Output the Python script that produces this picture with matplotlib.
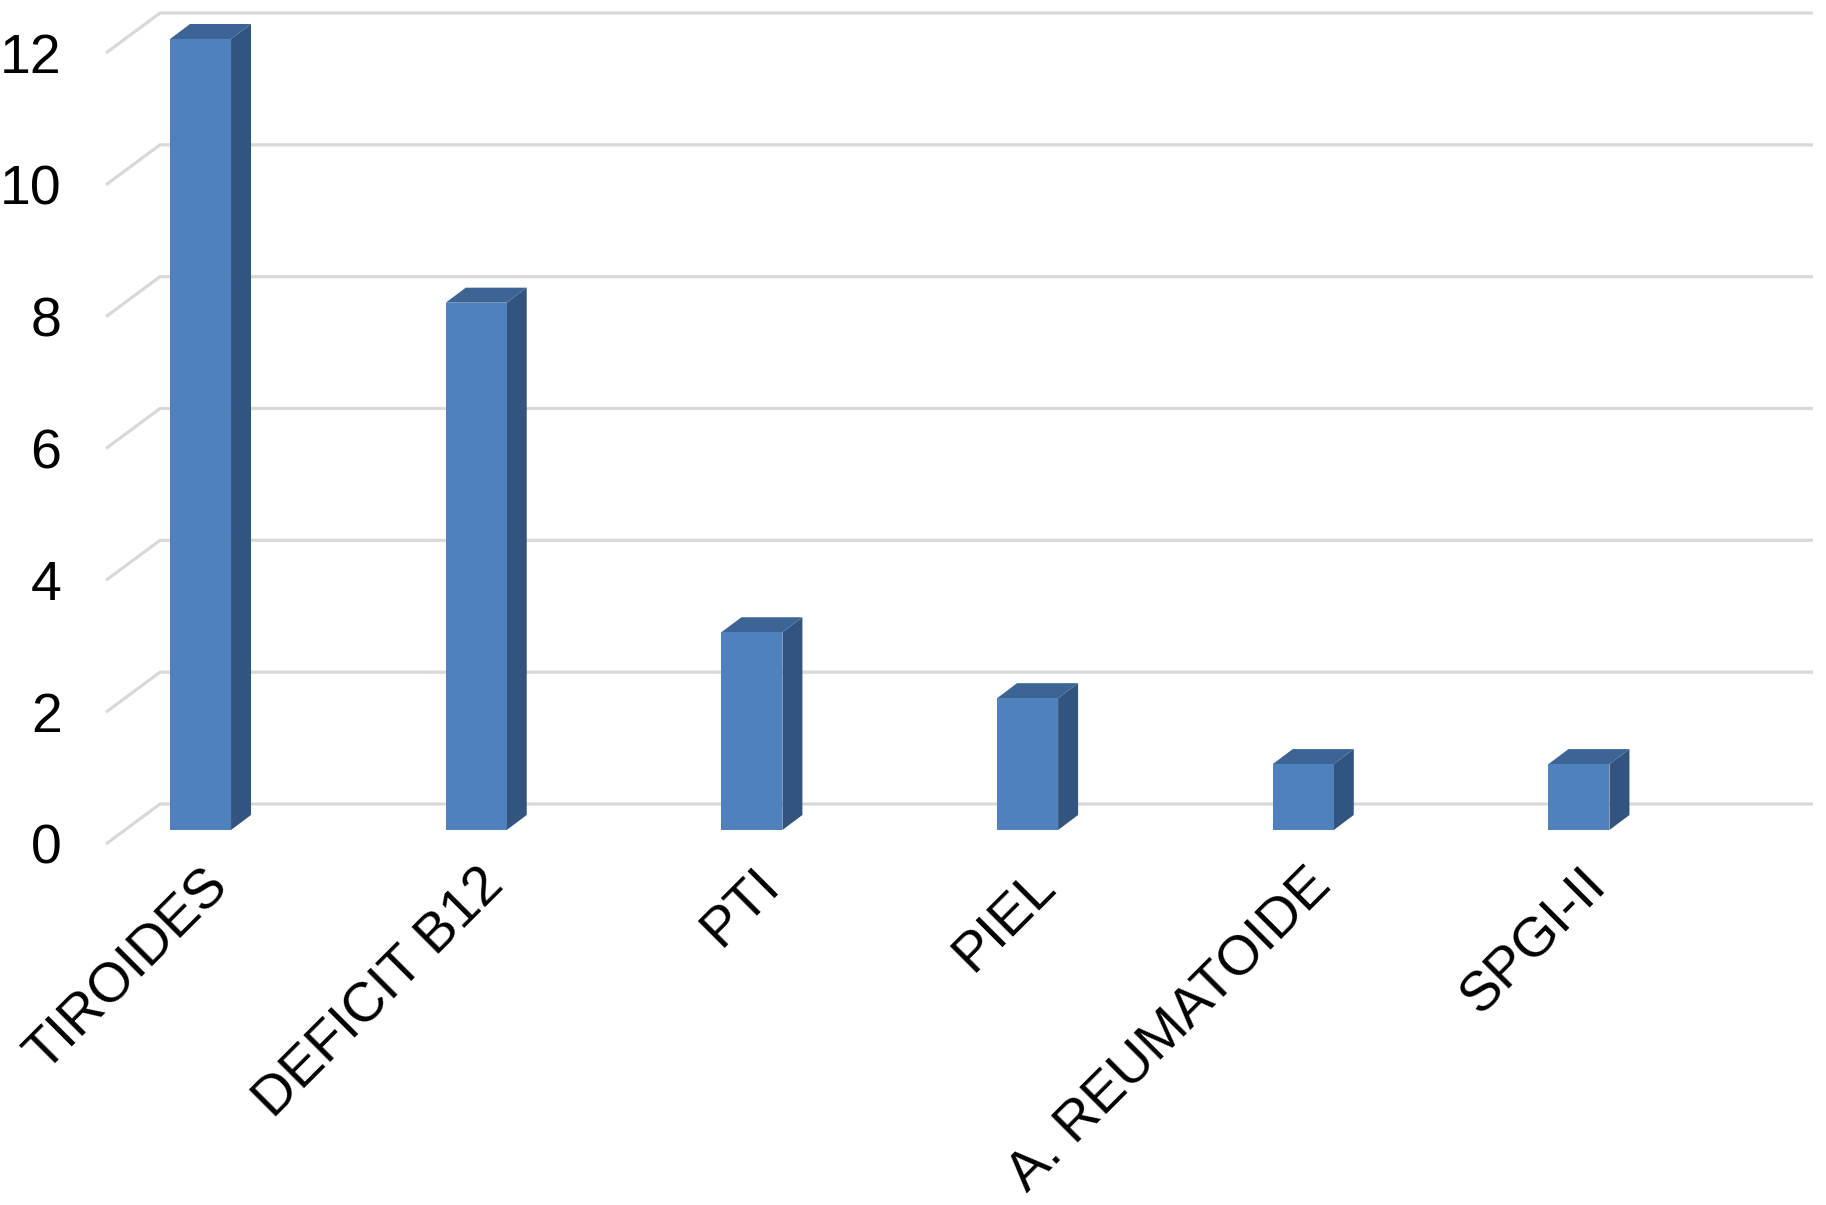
import numpy as np
import matplotlib
matplotlib.use('Agg')
import matplotlib.pyplot as plt
from matplotlib.patches import Polygon

#Data
categories = ['TIROIDES', 'DEFICIT B12', 'PTI', 'PIEL', 'A. REUMATOIDE', 'SPGI-II']
values = [12, 8, 3, 2, 1, 1]
yticks = [0, 2, 4, 6, 8, 10, 12]

#Colors
c_front = '#4F81BD'
c_top = '#3C6596'
c_side = '#33547E'
c_grid = '#D9D9D9'

plt.rcParams['font.family'] = ['Liberation Sans', 'DejaVu Sans']

W, H = 1826, 1205
fig = plt.figure(figsize=(W/100, H/100), dpi=100)
#axes = front edge of the floor (pixels)
L, R, B, T = 106, 1759, 361, 1152
ax = fig.add_axes([L/W, B/H, (R-L)/W, (T-B)/H])
x0 = -0.274
ax.set_xlim(x0, x0 + 5.996)
ax.set_ylim(0, 12)

px_x = (R-L)/5.996   #pixels per category
px_y = (T-B)/12.0    #pixels per unit

#depth offsets (in data units)
wall_dx, wall_dy = 54/px_x, 40/px_y     #front of floor -> back wall
bar_ox, bar_oy = 19/px_x, 14/px_y       #front of floor -> bar front
bar_dx, bar_dy = 20/px_x, 15/px_y       #bar depth
bw = 61/px_x

#gridlines (wall + floor edge)
x_end = ax.get_xlim()[1] + wall_dx
for v in yticks:
    ax.plot([x0, x0+wall_dx, x_end], [v, v+wall_dy, v+wall_dy],
            color=c_grid, lw=2.3, solid_capstyle='butt', clip_on=False, zorder=1)

#bars
x = np.arange(len(categories)) + bar_ox
ax.bar(x, values, width=bw, bottom=bar_oy, color=c_front, zorder=3, clip_on=False)
for xi, v in zip(x, values):
    xl, xr = xi - bw/2, xi + bw/2
    yb, yt = bar_oy, bar_oy + v
    side = Polygon([(xr, yb), (xr, yt), (xr+bar_dx, yt+bar_dy), (xr+bar_dx, yb+bar_dy)],
                   closed=True, fc=c_side, ec='none', zorder=2.5, clip_on=False)
    top = Polygon([(xl, yt), (xr, yt), (xr+bar_dx, yt+bar_dy), (xl+bar_dx, yt+bar_dy)],
                  closed=True, fc=c_top, ec='none', zorder=2.6, clip_on=False)
    ax.add_patch(side)
    ax.add_patch(top)

#axes styling
for s in ax.spines.values():
    s.set_visible(False)
ax.tick_params(axis='both', length=0, labelsize=40, colors='black')
ax.tick_params(axis='y', pad=32)
ax.set_yticks(yticks)
ax.set_yticklabels([str(v) for v in yticks])

ax.set_xticks(np.arange(len(categories)) + 0.075)
ax.set_xticklabels(categories, rotation=45, ha='right', va='top', rotation_mode='anchor')
ax.tick_params(axis='x', pad=11)

fig.savefig('out.png', dpi=100)
